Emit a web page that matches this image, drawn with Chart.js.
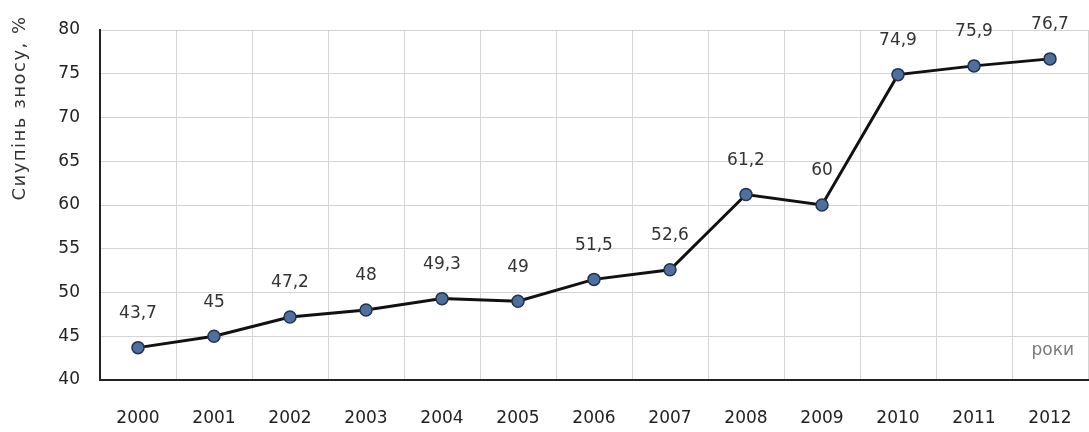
<!DOCTYPE html>
<html>
<head>
<meta charset="utf-8">
<script src="https://cdn.jsdelivr.net/npm/chart.js@4.4.1/dist/chart.umd.min.js"></script>
<style>
  html, body { margin: 0; padding: 0; background: #fff; }
  #wrap { width: 1089px; height: 432px; position: relative; }
</style>
</head>
<body>
<div id="wrap"><canvas id="chart"></canvas></div>
<script>
const years = ['2000', '2001', '2002', '2003', '2004', '2005', '2006', '2007', '2008', '2009', '2010', '2011', '2012'];
const wear = [43.7, 45, 47.2, 48, 49.3, 49, 51.5, 52.6, 61.2, 60, 74.9, 75.9, 76.7];
const yMin = 40;
const yMax = 80;
const yStep = 5;
const yTitle = 'Сиупінь зносу, %';
const xNote = 'роки';

const FONT = '"DejaVu Sans", Tahoma, sans-serif';

// value labels above points, axis title and the "роки" note
const extras = {
    id: 'extras',
    afterDatasetsDraw(chart) {
        const ctx = chart.ctx;
        const meta = chart.getDatasetMeta(0);
        ctx.save();
        ctx.font = '17px ' + FONT;
        ctx.fillStyle = '#333';
        ctx.textAlign = 'center';
        ctx.textBaseline = 'middle';
        meta.data.forEach((pt, i) => {
            ctx.fillText(String(wear[i]).replace('.', ','), pt.x, pt.y - 34);
        });

        const area = chart.chartArea;
        ctx.fillStyle = '#7a7a7a';
        ctx.textAlign = 'right';
        ctx.fillText(xNote, area.right - 14, chart.scales.y.getPixelForValue(yMin + 3.4));

        ctx.fillStyle = '#333';
        ctx.font = '18px ' + FONT;
        ctx.translate(20, 108);
        ctx.rotate(-Math.PI / 2);
        ctx.textAlign = 'center';
        ctx.letterSpacing = '1.5px';
        ctx.fillText(yTitle, 0, 0);
        ctx.restore();
    }
};

new Chart(document.getElementById('chart'), {
    type: 'line',
    data: {
        labels: years,
        datasets: [{
            data: wear,
            borderColor: '#111',
            borderWidth: 3,
            tension: 0,
            pointRadius: 6,
            pointHoverRadius: 6,
            pointBackgroundColor: '#4f6f9c',
            pointBorderColor: '#1f3453',
            pointBorderWidth: 1.5
        }]
    },
    options: {
        responsive: true,
        maintainAspectRatio: false,
        animation: false,
        layout: { autoPadding: false, padding: { top: 30, right: 1, left: 0, bottom: 0 } },
        plugins: {
            legend: { display: false },
            tooltip: { enabled: false }
        },
        scales: {
            x: {
                offset: true,
                grid: { offset: true, color: '#d4d4d4', tickLength: 25, tickColor: 'rgba(0,0,0,0)' },
                border: { color: '#222', width: 2 },
                ticks: { padding: 3, color: '#222', font: { family: FONT, size: 17 } },
                afterFit(scale) { scale.height = 52; }
            },
            y: {
                min: yMin,
                max: yMax,
                grid: { color: '#d4d4d4', tickLength: 17, tickColor: 'rgba(0,0,0,0)' },
                border: { color: '#222', width: 2 },
                ticks: { stepSize: yStep, padding: 3, color: '#222', font: { family: FONT, size: 17 } },
                afterFit(scale) { scale.width = 100; }
            }
        }
    },
    plugins: [extras]
});
</script>
</body>
</html>
